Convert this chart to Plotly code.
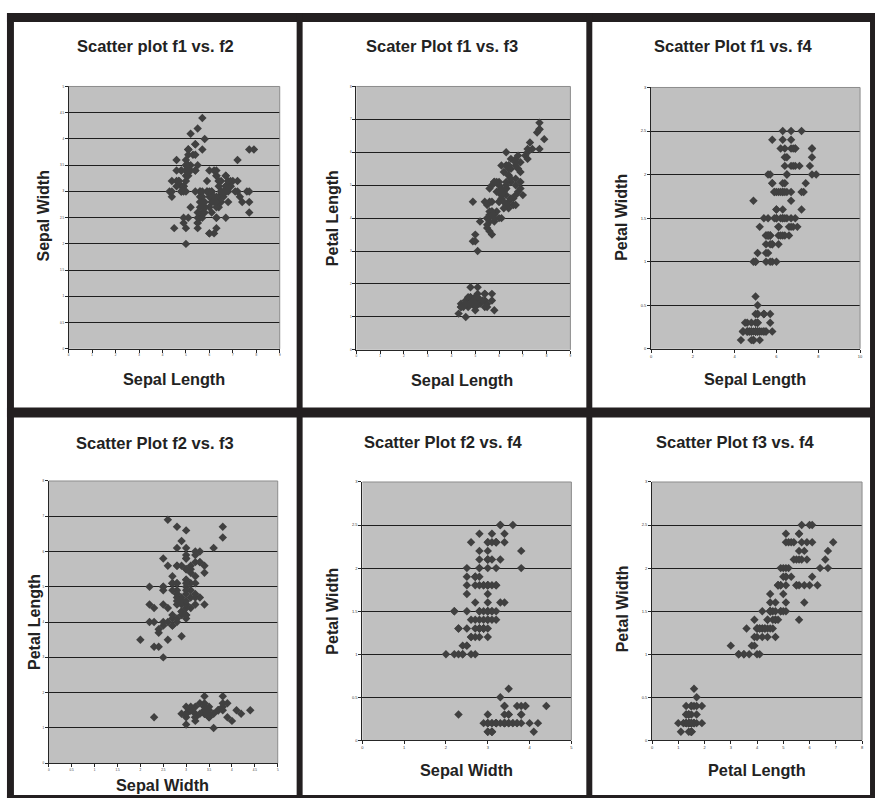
import plotly.graph_objects as go

# Iris data (f1..f4)
sepal_length = [5.1,4.9,4.7,4.6,5.0,5.4,4.6,5.0,4.4,4.9,5.4,4.8,4.8,4.3,5.8,5.7,5.4,5.1,5.7,5.1,
                5.4,5.1,4.6,5.1,4.8,5.0,5.0,5.2,5.2,4.7,4.8,5.4,5.2,5.5,4.9,5.0,5.5,4.9,4.4,5.1,
                5.0,4.5,4.4,5.0,5.1,4.8,5.1,4.6,5.3,5.0,
                7.0,6.4,6.9,5.5,6.5,5.7,6.3,4.9,6.6,5.2,5.0,5.9,6.0,6.1,5.6,6.7,5.6,5.8,6.2,5.6,
                5.9,6.1,6.3,6.1,6.4,6.6,6.8,6.7,6.0,5.7,5.5,5.5,5.8,6.0,5.4,6.0,6.7,6.3,5.6,5.5,
                5.5,6.1,5.8,5.0,5.6,5.7,5.7,6.2,5.1,5.7,
                6.3,5.8,7.1,6.3,6.5,7.6,4.9,7.3,6.7,7.2,6.5,6.4,6.8,5.7,5.8,6.4,6.5,7.7,7.7,6.0,
                6.9,5.6,7.7,6.3,6.7,7.2,6.2,6.1,6.4,7.2,7.4,7.9,6.4,6.3,6.1,7.7,6.3,6.4,6.0,6.9,
                6.7,6.9,5.8,6.8,6.7,6.7,6.3,6.5,6.2,5.9]
sepal_width = [3.5,3.0,3.2,3.1,3.6,3.9,3.4,3.4,2.9,3.1,3.7,3.4,3.0,3.0,4.0,4.4,3.9,3.5,3.8,3.8,
               3.4,3.7,3.6,3.3,3.4,3.0,3.4,3.5,3.4,3.2,3.1,3.4,4.1,4.2,3.1,3.2,3.5,3.1,3.0,3.4,
               3.5,2.3,3.2,3.5,3.8,3.0,3.8,3.2,3.7,3.3,
               3.2,3.2,3.1,2.3,2.8,2.8,3.3,2.4,2.9,2.7,2.0,3.0,2.2,2.9,2.9,3.1,3.0,2.7,2.2,2.5,
               3.2,2.8,2.5,2.8,2.9,3.0,2.8,3.0,2.9,2.6,2.4,2.4,2.7,2.7,3.0,3.4,3.1,2.3,3.0,2.5,
               2.6,3.0,2.6,2.3,2.7,3.0,2.9,2.9,2.5,2.8,
               3.3,2.7,3.0,2.9,3.0,3.0,2.5,2.9,2.5,3.6,3.2,2.7,3.0,2.5,2.8,3.2,3.0,3.8,2.6,2.2,
               3.2,2.8,2.8,2.7,3.3,3.2,2.8,3.0,2.8,3.0,2.8,3.8,2.8,2.8,2.6,3.0,3.4,3.1,3.0,3.1,
               3.1,3.1,2.7,3.2,3.3,3.0,2.5,3.0,3.4,3.0]
petal_length = [1.4,1.4,1.3,1.5,1.4,1.7,1.4,1.5,1.4,1.5,1.5,1.6,1.4,1.1,1.2,1.5,1.3,1.4,1.7,1.5,
                1.7,1.5,1.0,1.7,1.9,1.6,1.6,1.5,1.4,1.6,1.6,1.5,1.5,1.4,1.5,1.2,1.3,1.5,1.3,1.5,
                1.3,1.3,1.3,1.6,1.9,1.4,1.6,1.4,1.5,1.4,
                4.7,4.5,4.9,4.0,4.6,4.5,4.7,3.3,4.6,3.9,3.5,4.2,4.0,4.7,3.6,4.4,4.5,4.1,4.5,3.9,
                4.8,4.0,4.9,4.7,4.3,4.4,4.8,5.0,4.5,3.5,3.8,3.7,3.9,5.1,4.5,4.5,4.7,4.4,4.1,4.0,
                4.4,4.6,4.0,3.3,4.2,4.2,4.2,4.3,3.0,4.1,
                6.0,5.1,5.9,5.6,5.8,6.6,4.5,6.3,5.8,6.1,5.1,5.3,5.5,5.0,5.1,5.3,5.5,6.7,6.9,5.0,
                5.7,4.9,6.7,4.9,5.7,6.0,4.8,4.9,5.6,5.8,6.1,6.4,5.6,5.1,5.6,6.1,5.6,5.5,4.8,5.4,
                5.6,5.1,5.1,5.9,5.7,5.2,5.0,5.2,5.4,5.1]
petal_width = [0.2,0.2,0.2,0.2,0.2,0.4,0.3,0.2,0.2,0.1,0.2,0.2,0.1,0.1,0.2,0.4,0.4,0.3,0.3,0.3,
               0.2,0.4,0.2,0.5,0.2,0.2,0.4,0.2,0.2,0.2,0.2,0.4,0.1,0.2,0.1,0.2,0.2,0.1,0.2,0.2,
               0.3,0.3,0.2,0.6,0.4,0.3,0.2,0.2,0.2,0.2,
               1.4,1.5,1.5,1.3,1.5,1.3,1.6,1.0,1.3,1.4,1.0,1.5,1.0,1.4,1.3,1.4,1.5,1.0,1.5,1.1,
               1.8,1.3,1.5,1.2,1.3,1.4,1.4,1.7,1.5,1.0,1.1,1.0,1.2,1.6,1.5,1.6,1.5,1.3,1.3,1.3,
               1.2,1.4,1.2,1.0,1.3,1.2,1.3,1.3,1.1,1.3,
               2.5,1.9,2.1,1.8,2.2,2.1,1.7,1.8,1.8,2.5,2.0,1.9,2.1,2.0,2.4,2.3,1.8,2.2,2.3,1.5,
               2.3,2.0,2.0,1.8,2.1,1.8,1.8,1.8,2.1,1.6,1.9,2.0,2.2,1.5,1.4,2.3,2.4,1.8,1.8,2.1,
               2.4,2.3,1.9,2.3,2.5,2.3,1.9,2.0,2.3,1.8]

features = {"f1": sepal_length, "f2": sepal_width, "f3": petal_length, "f4": petal_width}

panel_titles = ["Scatter plot f1 vs. f2", "Scater Plot f1 vs. f3", "Scatter Plot f1 vs. f4",
                "Scatter Plot f2 vs. f3", "Scatter Plot f2 vs. f4", "Scatter Plot f3 vs. f4"]
x_feature = ["f1", "f1", "f1", "f2", "f2", "f3"]
y_feature = ["f2", "f3", "f4", "f3", "f4", "f4"]
x_titles = ["Sepal Length", "Sepal Length", "Sepal Length", "Sepal Width", "Sepal Width", "Petal Length"]
y_titles = ["Sepal Width", "Petal Length", "Petal Width", "Petal Length", "Petal Width", "Petal Width"]
x_ranges = [(0, 9, 1), (0, 9, 1), (0, 10, 2), (0, 5, 0.5), (0, 5, 1), (0, 8, 1)]
y_ranges = [(0, 5, 0.5), (0, 8, 1), (0, 3, 0.5), (0, 8, 1), (0, 3, 0.5), (0, 3, 0.5)]
tick_font_sizes = [3, 3, 4, 3, 4, 4]

W, H = 878, 800
# plot-area boxes in pixels: x0, x1, y0, y1 (top-down)
boxes = [(68, 280, 84, 348), (357, 572, 84, 349), (653, 863, 85, 348),
         (48, 278, 481, 765), (363, 573, 482, 742), (654, 865, 482, 742)]
title_pos = [(155, 43), (443, 43), (736, 43), (155, 443), (445, 442), (738, 442)]
xtitle_pos = [(174, 378), (463, 379), (757, 378), (162, 787), (468, 772), (759, 772)]
ytitle_pos = [(43, 214), (333, 216), (623, 216), (33, 623), (333, 612), (624, 610)]

FONT = "Liberation Sans, Arial, sans-serif"
DARK = "#262626"

fig = go.Figure()
annotations = []
shapes = []

for i in range(6):
    n = "" if i == 0 else str(i + 1)
    xa, ya = "x" + n, "y" + n
    fig.add_trace(go.Scatter(
        x=features[x_feature[i]], y=features[y_feature[i]],
        mode="markers", xaxis=xa, yaxis=ya, showlegend=False,
        marker=dict(symbol="diamond", size=6.5, color="#404040", line=dict(width=0)),
        hoverinfo="x+y"))
    x0, x1, y0, y1 = boxes[i]
    xr, yr = x_ranges[i], y_ranges[i]
    tf = dict(family=FONT, size=tick_font_sizes[i], color="#333")
    fig.layout["xaxis" + n] = dict(
        domain=[x0 / W, x1 / W], anchor=ya, range=[xr[0], xr[1]], dtick=xr[2], tick0=0,
        showgrid=False, zeroline=False, showline=True, linecolor=DARK, linewidth=1,
        ticks="outside", ticklen=3, tickcolor=DARK, tickwidth=1, tickfont=tf, fixedrange=True)
    fig.layout["yaxis" + n] = dict(
        domain=[1 - y1 / H, 1 - y0 / H], anchor=xa, range=[yr[0], yr[1]], dtick=yr[2], tick0=0,
        showgrid=True, gridcolor="#1e1e1e", gridwidth=1, zeroline=False,
        showline=True, linecolor=DARK, linewidth=1,
        ticks="outside", ticklen=3, tickcolor=DARK, tickwidth=1, tickfont=tf, fixedrange=True)
    # gray plot-area border on top and right
    shapes.append(dict(type="line", xref=xa + " domain", yref=ya + " domain",
                       x0=0, x1=1, y0=1, y1=1, line=dict(color="#8c8c8c", width=1)))
    shapes.append(dict(type="line", xref=xa + " domain", yref=ya + " domain",
                       x0=1, x1=1, y0=0, y1=1, line=dict(color="#8c8c8c", width=1)))
    tx, ty = title_pos[i]
    annotations.append(dict(text="<b>" + panel_titles[i] + "</b>", x=tx / W, y=1 - ty / H,
                            xref="paper", yref="paper", showarrow=False,
                            xanchor="center", yanchor="middle",
                            font=dict(family=FONT, size=16.5, color="#222")))
    ax_, ay_ = xtitle_pos[i]
    annotations.append(dict(text="<b>" + x_titles[i] + "</b>", x=ax_ / W, y=1 - ay_ / H,
                            xref="paper", yref="paper", showarrow=False,
                            xanchor="center", yanchor="middle",
                            font=dict(family=FONT, size=16.3, color="#222")))
    bx, by = ytitle_pos[i]
    annotations.append(dict(text="<b>" + y_titles[i] + "</b>", x=bx / W, y=1 - by / H,
                            xref="paper", yref="paper", showarrow=False, textangle=-90,
                            xanchor="center", yanchor="middle",
                            font=dict(family=FONT, size=16, color="#222")))

# black panel frames (pixel rectangles)
frame_rects = [(6, 878, 10, 19), (6, 13, 10, 800), (873, 878, 10, 800), (6, 878, 797, 800),
               (297, 303, 10, 800), (588, 594, 10, 800), (6, 878, 407, 417)]
for (a, b, c, d) in frame_rects:
    shapes.append(dict(type="rect", xref="paper", yref="paper",
                       x0=a / W, x1=b / W, y0=1 - d / H, y1=1 - c / H,
                       fillcolor="#231f20", line=dict(width=0), layer="above"))

fig.update_layout(
    width=W, height=H, margin=dict(l=0, r=0, t=0, b=0),
    paper_bgcolor="white", plot_bgcolor="#c0c0c0",
    annotations=annotations, shapes=shapes, showlegend=False,
    font=dict(family=FONT))

fig.write_html("out.html", config={"displayModeBar": False},
               post_script="document.body.style.margin='0';document.body.style.overflow='hidden';")
